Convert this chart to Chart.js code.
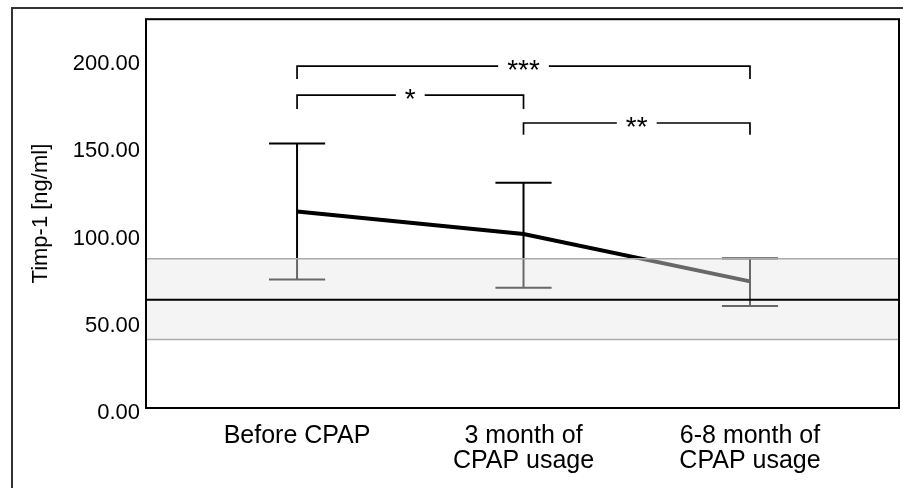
<!DOCTYPE html>
<html>
<head>
<meta charset="utf-8">
<script src="https://cdn.jsdelivr.net/npm/chart.js@4/dist/chart.umd.min.js"></script>
<style>
  html, body { margin: 0; padding: 0; background: #fff; }
  canvas { display: block; }
</style>
</head>
<body>
<canvas id="chart" width="903" height="488"></canvas>
<script>
// categories along the x axis (index 0,1,2)
const categories = ['Before CPAP', ['3 month of', 'CPAP usage'], ['6-8 month of', 'CPAP usage']];
const means = [112.6, 99.8, 72.6];
const upperErr = [151.6, 129.1, 85.7];
const lowerErr = [73.7, 69.0, 58.5];

// reference value and its band
const refValue = 62.1;
const bandLow = 39.3;
const bandHigh = 85.5;

const yTicks = [0, 50, 100, 150, 200];

// significance brackets: from/to category index, top value, leg bottom value
const bracketFrom = [0, 0, 1];
const bracketTo = [2, 1, 2];
const bracketTop = [196.0, 179.4, 163.4];
const bracketLeg = [188.6, 171.4, 156.6];
const bracketLabel = ['***', '*', '**'];

const FONT = 'Liberation Sans, Arial, sans-serif';

const overlay = {
  id: 'overlay',
  beforeDraw(chart) {
    const ctx = chart.ctx;
    // outer frame
    ctx.save();
    ctx.strokeStyle = '#333';
    ctx.lineWidth = 2;
    ctx.beginPath();
    ctx.moveTo(12, 488);
    ctx.lineTo(12, 8);
    ctx.lineTo(903, 8);
    ctx.stroke();
    ctx.restore();
  },
  beforeDatasetsDraw(chart) {
    const ctx = chart.ctx;
    const xs = chart.scales.x, ys = chart.scales.y;
    const capHalf = xs.getPixelForValue(0.124) - xs.getPixelForValue(0);
    ctx.save();
    ctx.strokeStyle = '#000';
    ctx.lineWidth = 2;
    means.forEach((m, i) => {
      const x = xs.getPixelForValue(i);
      const yt = ys.getPixelForValue(upperErr[i]);
      const yb = ys.getPixelForValue(lowerErr[i]);
      ctx.beginPath();
      ctx.moveTo(x, yt); ctx.lineTo(x, yb);
      ctx.moveTo(x - capHalf, yt); ctx.lineTo(x + capHalf, yt);
      ctx.moveTo(x - capHalf, yb); ctx.lineTo(x + capHalf, yb);
      ctx.stroke();
    });
    ctx.restore();
  },
  afterDatasetsDraw(chart) {
    const ctx = chart.ctx;
    const a = chart.chartArea;
    const xs = chart.scales.x, ys = chart.scales.y;
    const yHi = ys.getPixelForValue(bandHigh);
    const yLo = ys.getPixelForValue(bandLow);
    const yRef = ys.getPixelForValue(refValue);
    ctx.save();
    // translucent band over the lines
    ctx.fillStyle = 'rgba(230,230,230,0.45)';
    ctx.fillRect(a.left, yHi, a.right - a.left, yLo - yHi);
    ctx.strokeStyle = '#aaa';
    ctx.lineWidth = 1.5;
    ctx.beginPath();
    ctx.moveTo(a.left, yHi); ctx.lineTo(a.right, yHi);
    ctx.moveTo(a.left, yLo); ctx.lineTo(a.right, yLo);
    ctx.stroke();
    ctx.strokeStyle = '#000';
    ctx.lineWidth = 2;
    ctx.beginPath();
    ctx.moveTo(a.left, yRef); ctx.lineTo(a.right, yRef);
    ctx.stroke();
    // plot border
    ctx.strokeRect(a.left, a.top, a.right - a.left, a.bottom - a.top);

    // brackets
    ctx.lineWidth = 1.7;
    ctx.font = '28px ' + FONT;
    ctx.textAlign = 'center';
    ctx.textBaseline = 'alphabetic';
    ctx.fillStyle = '#000';
    bracketLabel.forEach((lab, i) => {
      const x1 = xs.getPixelForValue(bracketFrom[i]);
      const x2 = xs.getPixelForValue(bracketTo[i]);
      const yt = ys.getPixelForValue(bracketTop[i]);
      const yl = ys.getPixelForValue(bracketLeg[i]);
      const xm = (x1 + x2) / 2;
      const gap = ctx.measureText(lab).width / 2 + 9;
      ctx.beginPath();
      ctx.moveTo(x1, yl); ctx.lineTo(x1, yt); ctx.lineTo(xm - gap, yt);
      ctx.moveTo(xm + gap, yt); ctx.lineTo(x2, yt); ctx.lineTo(x2, yl);
      ctx.stroke();
      ctx.fillText(lab, xm, yt + 13);
    });
    ctx.restore();
  }
};

new Chart(document.getElementById('chart'), {
  type: 'line',
  data: {
    datasets: [{
      data: means.map((m, i) => ({ x: i, y: m })),
      borderColor: '#000',
      borderWidth: 4,
      pointRadius: 0,
      tension: 0,
      fill: false
    }]
  },
  options: {
    responsive: false,
    animation: false,
    devicePixelRatio: 1,
    layout: { padding: { left: 0, right: 4, top: 18, bottom: 0 } },
    plugins: { legend: { display: false }, tooltip: { enabled: false } },
    scales: {
      x: {
        type: 'linear',
        min: -0.667,
        max: 2.658,
        afterBuildTicks: s => { s.ticks = categories.map((c, i) => ({ value: i })); },
        afterFit: s => { s.height = 80; },
        ticks: {
          callback: v => categories[v],
          color: '#000',
          font: { family: FONT, size: 25, lineHeight: 1.0 },
          padding: 16,
          maxRotation: 0,
          autoSkip: false
        },
        grid: { display: false, drawTicks: false },
        border: { display: false }
      },
      y: {
        min: 0,
        max: 222.9,
        afterBuildTicks: s => { s.ticks = yTicks.map(v => ({ value: v })); },
        afterFit: s => { s.width = 146; },
        ticks: {
          callback: v => v.toFixed(2),
          color: '#000',
          font: { family: FONT, size: 22 },
          padding: 6,
          labelOffset: 5
        },
        title: {
          display: true,
          text: 'Timp-1 [ng/ml]',
          color: '#000',
          font: { family: FONT, size: 22 },
          padding: { top: 28, bottom: 0 }
        },
        grid: { display: false, drawTicks: false },
        border: { display: false }
      }
    }
  },
  plugins: [overlay]
});
</script>
</body>
</html>
